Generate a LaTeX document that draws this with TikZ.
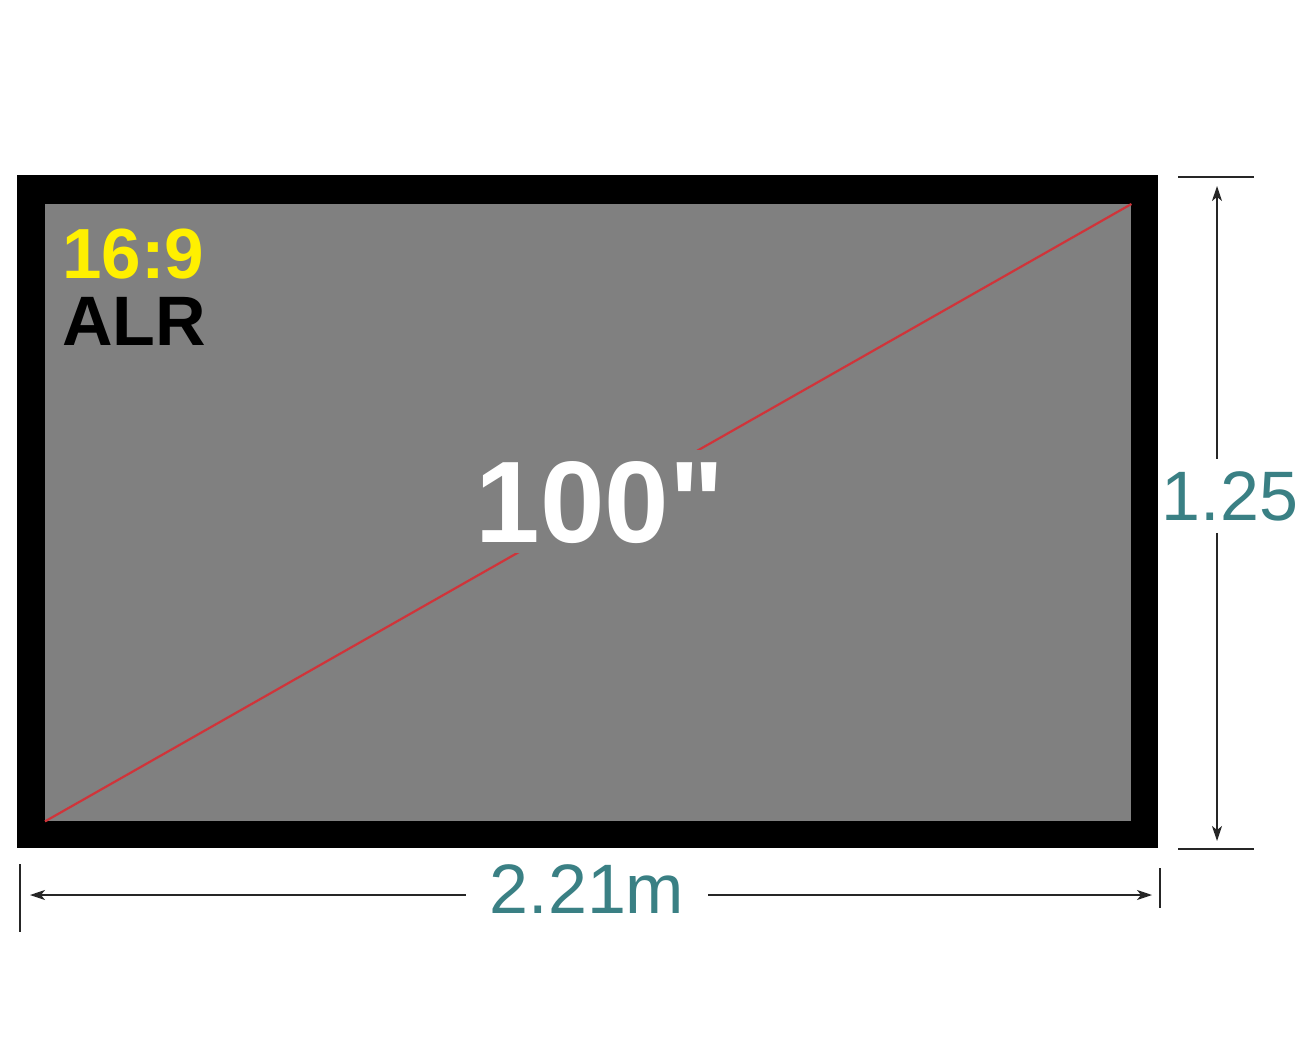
\documentclass[tikz,border=0pt]{standalone}
\usepackage{fontspec}
\setmainfont{Liberation Sans}[Ligatures=TeXOff]
\usetikzlibrary{arrows.meta}
\definecolor{screengray}{RGB}{128,128,128}
\definecolor{diagred}{RGB}{208,52,58}
\definecolor{dimteal}{RGB}{58,128,132}
\definecolor{labelyellow}{RGB}{255,240,0}
\tikzset{
  dimarrow/.style={line width=1.4pt, draw=black!85, -{Stealth[length=15pt,width=10pt,inset=4pt]}},
  dimtick/.style={line width=1.8pt, draw=black!85},
  dimtext/.style={text=dimteal, font=\fontsize{70}{70}\selectfont, inner sep=0pt},
}
\begin{document}
\begin{tikzpicture}[x=1pt,y=-1pt]
\useasboundingbox (0,0) rectangle (1300,1040);
% frame and screen
\node[fill=black, draw=none, minimum width=1141pt, minimum height=673pt, inner sep=0pt, anchor=north west] (frame) at (17,175) {};
\node[fill=screengray, draw=none, minimum width=1086pt, minimum height=617pt, inner sep=0pt, anchor=north west] (screen) at (45,204) {};
% diagonal
\draw[diagred, line width=2.2pt] (screen.south west) -- (screen.north east);
% labels on the screen
\node[fill=screengray, text=white, font=\bfseries\fontsize{116}{116}\selectfont, inner sep=0pt, text height=83pt, text depth=0pt, minimum width=250pt, minimum height=103pt] (size) at (600,501) {100"};
\node[text=labelyellow, font=\bfseries\fontsize{71}{71}\selectfont, inner sep=0pt, anchor=base west] (ratio) at (62,279) {16:9};
\node[text=black, font=\bfseries\fontsize{70}{70}\selectfont, inner sep=0pt, anchor=base west] (alr) at (62,345) {ALR};
% width dimension
\coordinate (wtickLa) at (20,864);
\coordinate (wtickLb) at (20,932);
\coordinate (wtickRa) at (1160,868);
\coordinate (wtickRb) at (1160,908);
\coordinate (wtipL) at (30,895);
\coordinate (wtipR) at (1152,895);
\draw[dimtick] (wtickLa) -- (wtickLb);
\draw[dimtick] (wtickRa) -- (wtickRb);
\node[dimtext, anchor=base, inner xsep=24pt] (wlabel) at (587,913) {2.21m};
\draw[dimarrow] (wlabel.west |- wtipL) -- (wtipL);
\draw[dimarrow] (wlabel.east |- wtipR) -- (wtipR);
% height dimension
\coordinate (htickTa) at (1178,177);
\coordinate (htickTb) at (1254,177);
\coordinate (htickBa) at (1178,849);
\coordinate (htickBb) at (1254,849);
\coordinate (htipT) at (1217,186);
\coordinate (htipB) at (1217,841);
\draw[dimtick] (htickTa) -- (htickTb);
\draw[dimtick] (htickBa) -- (htickBb);
\node[dimtext, anchor=base, inner ysep=12pt] (hlabel) at (1230,520) {1.25};
\draw[dimarrow] (hlabel.north -| htipT) -- (htipT);
\draw[dimarrow] (hlabel.south -| htipB) -- (htipB);
\end{tikzpicture}
\end{document}
